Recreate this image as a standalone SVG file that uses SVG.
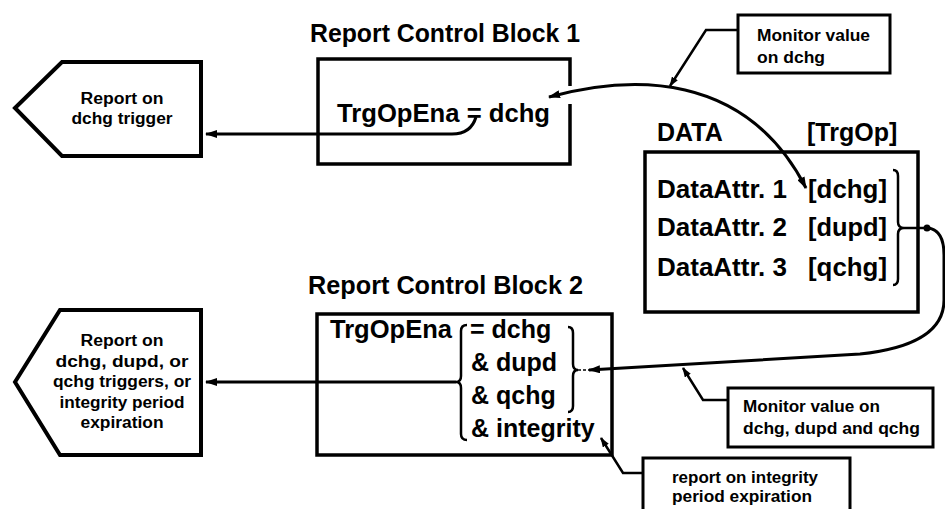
<svg xmlns="http://www.w3.org/2000/svg" width="945" height="509" viewBox="0 0 945 509">
<defs>
<style>
text{font-family:"Liberation Sans",Arial,sans-serif;font-weight:bold;fill:#000}
.big{font-size:25px}
.sm{font-size:16px}
.box{fill:none;stroke:#000;stroke-width:3.5}
.pent{fill:#fff;stroke:#000;stroke-width:4;stroke-linejoin:miter}
.ln{fill:none;stroke:#000;stroke-width:3}
.thin{fill:none;stroke:#000;stroke-width:2.5}
.brace{fill:none;stroke:#000;stroke-width:2.5}
</style>
<marker id="ah" viewBox="0 0 12 8" refX="11" refY="4" markerWidth="12" markerHeight="8" markerUnits="userSpaceOnUse" orient="auto-start-reverse">
<path d="M0,0 L12,4 L0,8 Z" fill="#000"/>
</marker>
<marker id="ahs" viewBox="0 0 10 7" refX="9" refY="3.5" markerWidth="10" markerHeight="7" markerUnits="userSpaceOnUse" orient="auto">
<path d="M0,0 L10,3.5 L0,7 Z" fill="#000"/>
</marker>
</defs>
<rect width="945" height="509" fill="#fff"/>

<g id="report1">
<polygon class="pent" points="15,108 62,62 201,62 201,156 62,156"/>
<text class="sm" x="122" y="104" text-anchor="middle" textLength="83" lengthAdjust="spacingAndGlyphs">Report on</text>
<text class="sm" x="122" y="124" text-anchor="middle" textLength="101" lengthAdjust="spacingAndGlyphs">dchg trigger</text>
</g>

<g id="rcb1">
<text class="big" x="310" y="42" textLength="270" lengthAdjust="spacingAndGlyphs">Report Control Block 1</text>
<path class="box" d="M570,86 L570,59 L318,59 L318,164 L570,164 L570,104"/>
<text class="big" x="337" y="122" textLength="213" lengthAdjust="spacingAndGlyphs">TrgOpEna = dchg</text>
</g>

<g id="monitor1">
<rect class="box" x="738" y="15" width="152" height="58" style="stroke-width:3"/>
<text class="sm" x="757" y="41" textLength="113" lengthAdjust="spacingAndGlyphs">Monitor value</text>
<text class="sm" x="757" y="63" textLength="68" lengthAdjust="spacingAndGlyphs">on dchg</text>
</g>

<g id="data">
<text class="big" x="657" y="141">DATA</text>
<text class="big" x="807" y="141">[TrgOp]</text>
<rect class="box" x="645" y="152" width="273" height="160"/>
<text class="big" x="657" y="198" textLength="130" lengthAdjust="spacingAndGlyphs">DataAttr. 1</text>
<text class="big" x="808" y="198" textLength="79" lengthAdjust="spacingAndGlyphs">[dchg]</text>
<text class="big" x="657" y="236" textLength="130" lengthAdjust="spacingAndGlyphs">DataAttr. 2</text>
<text class="big" x="808" y="236" textLength="79" lengthAdjust="spacingAndGlyphs">[dupd]</text>
<text class="big" x="657" y="276" textLength="130" lengthAdjust="spacingAndGlyphs">DataAttr. 3</text>
<text class="big" x="808" y="276" textLength="79" lengthAdjust="spacingAndGlyphs">[qchg]</text>
<path class="brace" d="M893,170 Q898,170 898,176 L898,222 Q898,228 904,228 Q898,228 898,234 L898,279 Q898,285 893,285"/>
</g>

<g id="rcb2">
<text class="big" x="308" y="294" textLength="275" lengthAdjust="spacingAndGlyphs">Report Control Block 2</text>
<rect class="box" x="317" y="314" width="295" height="141"/>
<text class="big" x="330" y="338" textLength="122" lengthAdjust="spacingAndGlyphs">TrgOpEna</text>
<path class="brace" d="M467,325 Q461,325 461,331 L461,376 Q461,382 456,382 Q461,382 461,388 L461,434 Q461,440 467,440"/>
<text class="big" x="470" y="338">= dchg</text>
<text class="big" x="471" y="371">&amp; dupd</text>
<text class="big" x="471" y="404">&amp; qchg</text>
<text class="big" x="471" y="437">&amp; integrity</text>
<path class="brace" d="M568,327 Q573,327 573,333 L573,364 Q573,370 578,370 Q573,370 573,376 L573,406 Q573,412 568,412"/>
</g>

<g id="report2">
<polygon class="pent" points="15,382 60,310 201,310 201,455 60,455"/>
<text class="sm" x="122" y="346" text-anchor="middle" textLength="83" lengthAdjust="spacingAndGlyphs">Report on</text>
<text class="sm" x="122" y="367" text-anchor="middle" textLength="133" lengthAdjust="spacingAndGlyphs">dchg, dupd, or</text>
<text class="sm" x="122" y="387" text-anchor="middle" textLength="138" lengthAdjust="spacingAndGlyphs">qchg triggers, or</text>
<text class="sm" x="122" y="408" text-anchor="middle" textLength="125" lengthAdjust="spacingAndGlyphs">integrity period</text>
<text class="sm" x="122" y="428" text-anchor="middle" textLength="83" lengthAdjust="spacingAndGlyphs">expiration</text>
</g>

<g id="monitor2">
<rect class="box" x="728" y="388" width="205" height="59" style="stroke-width:3"/>
<text class="sm" x="743" y="412" textLength="137" lengthAdjust="spacingAndGlyphs">Monitor value on</text>
<text class="sm" x="743" y="434" textLength="177" lengthAdjust="spacingAndGlyphs">dchg, dupd and qchg</text>
</g>

<g id="integrity">
<rect class="box" x="643" y="458" width="207" height="70" style="stroke-width:3"/>
<text class="sm" x="672" y="483" textLength="146" lengthAdjust="spacingAndGlyphs">report on integrity</text>
<text class="sm" x="672" y="502" textLength="140" lengthAdjust="spacingAndGlyphs">period expiration</text>
</g>

<g id="connectors">
<path class="ln" d="M476,117 Q471,134 452,134 L206,134" marker-end="url(#ah)"/>
<path class="ln" d="M456,382 L206,382" marker-end="url(#ah)"/>
<path class="ln" d="M806,188 C745,70 630,75 549,97" marker-start="url(#ah)" marker-end="url(#ah)"/>
<path class="ln" d="M928,228 Q944,230 944,255 L944,300 Q944,345 860,354 L589,370" marker-end="url(#ah)"/>
<path class="thin" d="M904,228 L928,228"/>
<circle cx="927" cy="228" r="3.5" fill="#000"/>
<path d="M578,370 L589,370" stroke="#000" stroke-width="1.5" stroke-dasharray="3,2"/>
<polyline class="thin" points="738,30 706,30 670,86" marker-end="url(#ahs)"/>
<polyline class="thin" points="728,400 703,400 683,368" marker-end="url(#ahs)"/>
<polyline class="thin" points="643,473 623,473 601,438" marker-end="url(#ahs)"/>
</g>
</svg>
